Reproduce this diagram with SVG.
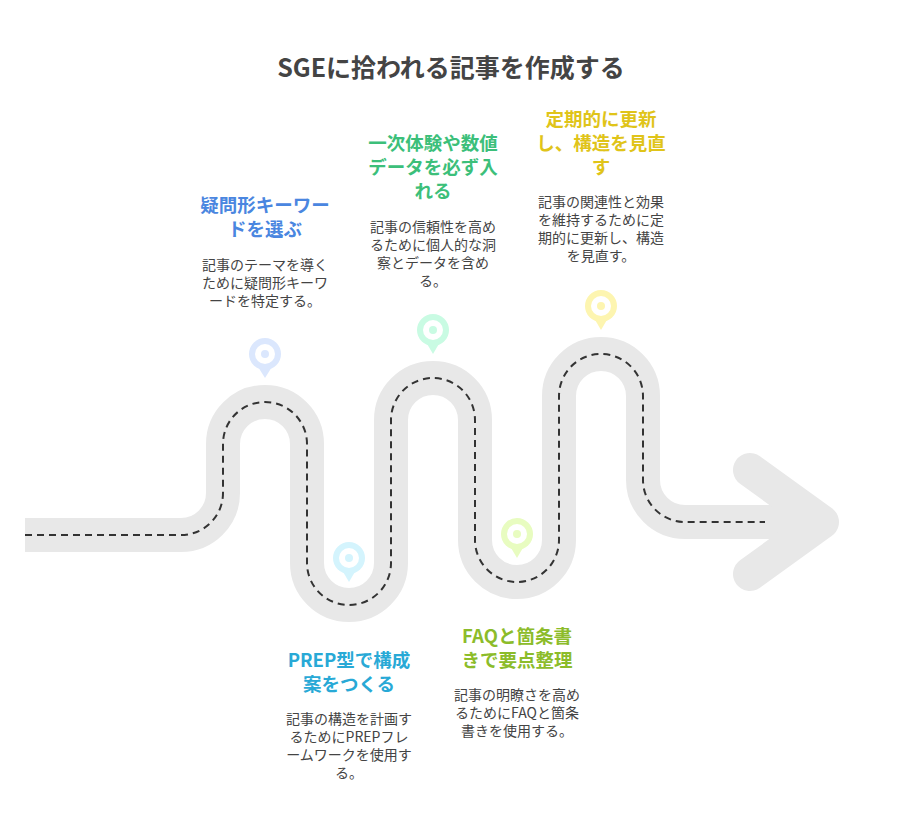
<svg xmlns="http://www.w3.org/2000/svg" width="901" height="828" viewBox="0 0 901 828">
<style>
text{font-family:"Noto Sans CJK JP","Noto Sans",sans-serif;text-anchor:middle}
.t{font-size:25px;font-weight:bold;fill:#444}
.h{font-size:18.5px;font-weight:bold}
.b{font-size:14px;fill:#444}
.road{fill:none;stroke:#e8e8e8;stroke-width:34}
.dash{fill:none;stroke:#333;stroke-width:2;stroke-dasharray:7,5}
</style>
<rect width="901" height="828" fill="#fff"/>
<text class="t" x="451" y="77">SGEに拾われる記事を作成する</text>
<g id="road">
<path class="road" d="M25,535 H181 A42,42 0 0 0 223,493 V444 A42,42 0 0 1 307,444 V563 A42,42 0 0 0 391,563 V420 A42,42 0 0 1 475,420 V540 A42,42 0 0 0 559,540 V396 A42,42 0 0 1 643,396 V480 A42,42 0 0 0 685,522 H825"/>
<path d="M750,470 L822,522 L750,574" fill="none" stroke="#e8e8e8" stroke-width="34" stroke-linecap="round" stroke-linejoin="round"/>
<path class="dash" d="M25,535 H181 A42,42 0 0 0 223,493 V444 A42,42 0 0 1 307,444 V563 A42,42 0 0 0 391,563 V420 A42,42 0 0 1 475,420 V540 A42,42 0 0 0 559,540 V396 A42,42 0 0 1 643,396 V480 A42,42 0 0 0 685,522 H765"/>
</g>
<g id="pins">
<g fill="#dbe7fd"><path d="M255,362 L265,378 L275,362Z"/><circle cx="265" cy="354" r="16"/><circle cx="265" cy="354" r="10" fill="#fff"/><circle cx="265" cy="354" r="4"/></g>
<g fill="#d4f4fd"><path d="M339,565 L349,582 L359,565Z"/><circle cx="349" cy="558" r="16"/><circle cx="349" cy="558" r="10" fill="#fff"/><circle cx="349" cy="558" r="4"/></g>
<g fill="#c9fbe3"><path d="M423,337 L433,354 L443,337Z"/><circle cx="433" cy="330" r="16"/><circle cx="433" cy="330" r="10" fill="#fff"/><circle cx="433" cy="330" r="4"/></g>
<g fill="#e8fcc0"><path d="M507,541 L517,558 L527,541Z"/><circle cx="517" cy="534" r="16"/><circle cx="517" cy="534" r="10" fill="#fff"/><circle cx="517" cy="534" r="4"/></g>
<g fill="#fdf5b0"><path d="M591,313 L601,330 L611,313Z"/><circle cx="601" cy="306" r="16"/><circle cx="601" cy="306" r="10" fill="#fff"/><circle cx="601" cy="306" r="4"/></g>
</g>
<g id="n1">
<text class="h" fill="#4a86e0" x="265" y="212">疑問形キーワー</text>
<text class="h" fill="#4a86e0" x="265" y="236">ドを選ぶ</text>
<text class="b" x="265" y="270">記事のテーマを導く</text>
<text class="b" x="265" y="288">ために疑問形キーワ</text>
<text class="b" x="265" y="306">ードを特定する。</text>
</g>
<g id="n2">
<text class="h" fill="#3cbf7a" x="433" y="150">一次体験や数値</text>
<text class="h" fill="#3cbf7a" x="433" y="174">データを必ず入</text>
<text class="h" fill="#3cbf7a" x="433" y="198">れる</text>
<text class="b" x="433" y="232">記事の信頼性を高め</text>
<text class="b" x="433" y="250">るために個人的な洞</text>
<text class="b" x="433" y="268">察とデータを含め</text>
<text class="b" x="433" y="286">る。</text>
</g>
<g id="n3">
<text class="h" fill="#e0c419" x="601" y="126">定期的に更新</text>
<text class="h" fill="#e0c419" x="601" y="150">し、構造を見直</text>
<text class="h" fill="#e0c419" x="601" y="174">す</text>
<text class="b" x="601" y="207">記事の関連性と効果</text>
<text class="b" x="601" y="225">を維持するために定</text>
<text class="b" x="601" y="243">期的に更新し、構造</text>
<text class="b" x="601" y="261">を見直す。</text>
</g>
<g id="n4">
<text class="h" fill="#28a9d6" x="349" y="667">PREP型で構成</text>
<text class="h" fill="#28a9d6" x="349" y="691">案をつくる</text>
<text class="b" x="349" y="724">記事の構造を計画す</text>
<text class="b" x="349" y="742">るためにPREPフレ</text>
<text class="b" x="349" y="760">ームワークを使用す</text>
<text class="b" x="349" y="778">る。</text>
</g>
<g id="n5">
<text class="h" fill="#8cbc2a" x="517" y="643">FAQと箇条書</text>
<text class="h" fill="#8cbc2a" x="517" y="667">きで要点整理</text>
<text class="b" x="517" y="700">記事の明瞭さを高め</text>
<text class="b" x="517" y="718">るためにFAQと箇条</text>
<text class="b" x="517" y="736">書きを使用する。</text>
</g>
</svg>
